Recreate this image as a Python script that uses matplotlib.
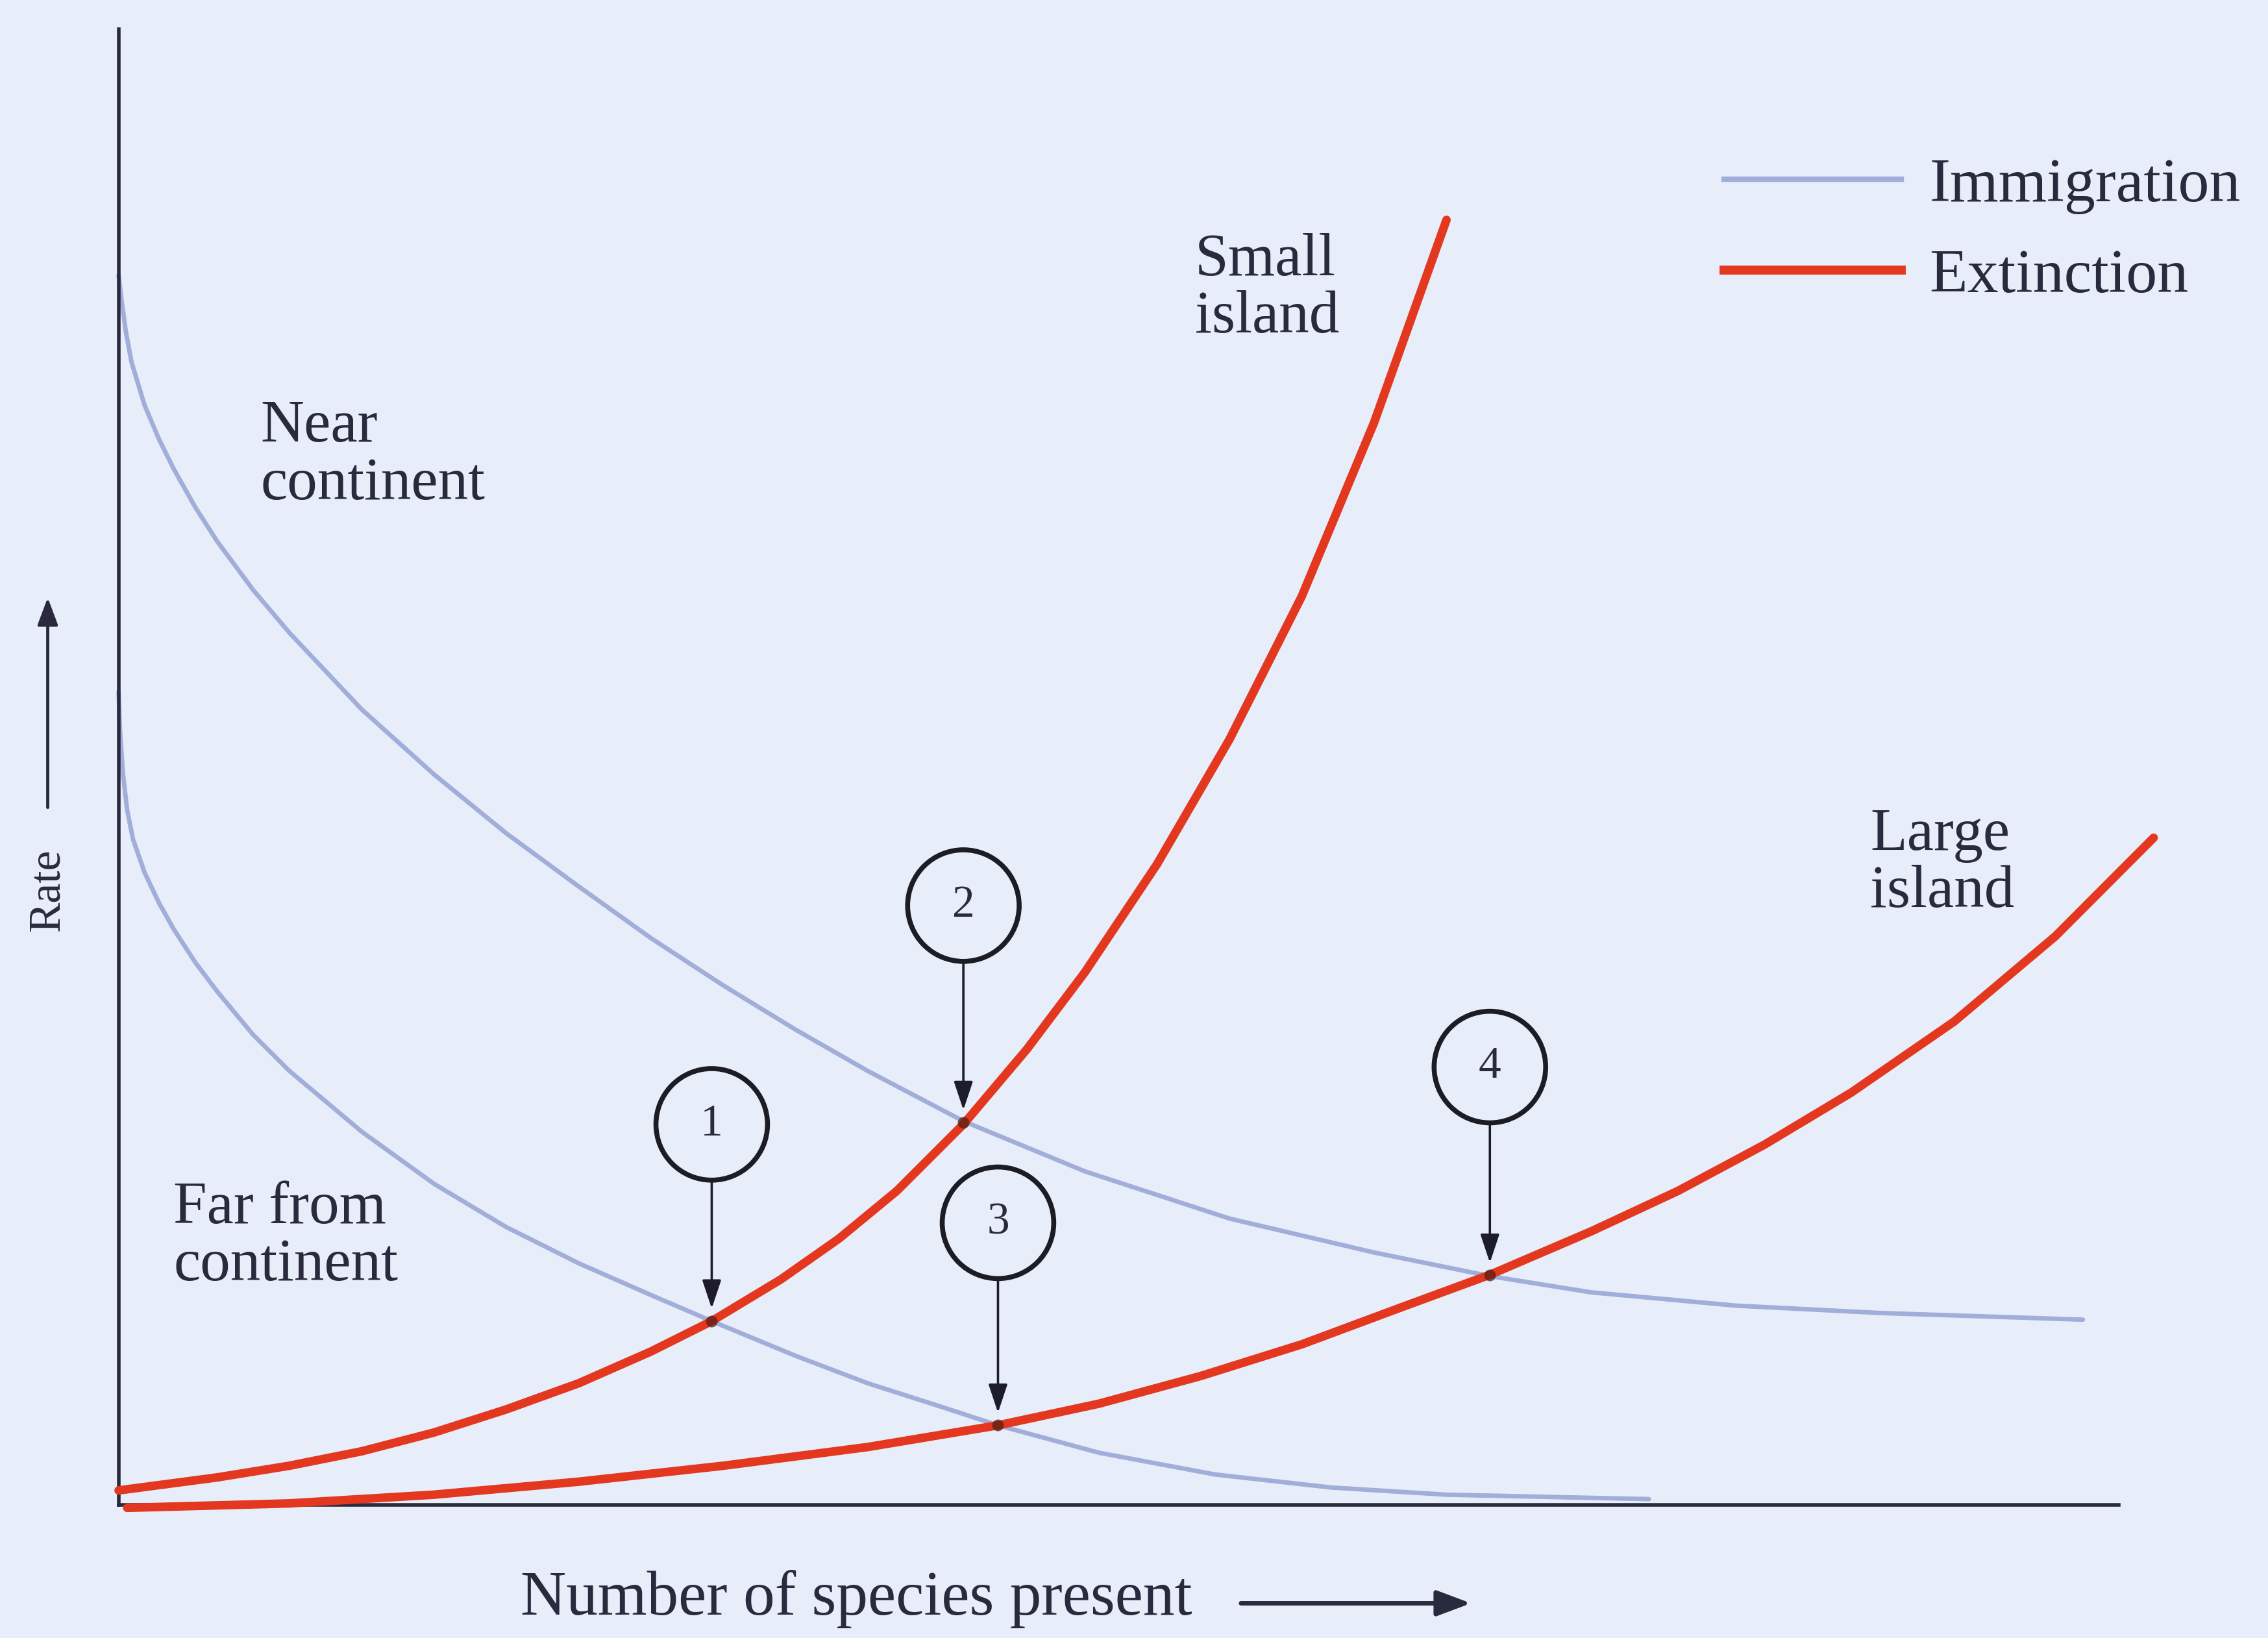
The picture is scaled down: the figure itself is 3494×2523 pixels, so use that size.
import matplotlib
matplotlib.use("Agg")
import matplotlib.pyplot as plt
from matplotlib.lines import Line2D

# ---------------- data (arbitrary units: species 0-100, rate 0-100) ----------------
near_x = [0, 0.14, 0.36, 0.65, 1.30, 2.02, 2.75, 3.83, 4.92, 6.72, 8.53, 12.15, 15.76,
          19.38, 23.00, 26.61, 30.22, 33.84, 37.45, 42.23, 48.30, 55.53, 62.76, 68.55,
          73.61, 80.84, 88.07, 98.19]
near_y = [83.3, 81.7, 79.5, 77.4, 74.5, 72.2, 70.2, 67.6, 65.3, 62.0, 59.1, 53.9, 49.5,
          45.5, 41.9, 38.4, 35.2, 32.2, 29.4, 26.0, 22.6, 19.4, 17.1, 15.5,
          14.4, 13.5, 13.0, 12.55]

far_x = [0, 0.07, 0.22, 0.43, 0.72, 1.30, 2.02, 2.75, 3.83, 4.92, 6.72, 8.53, 12.15,
         15.76, 19.38, 23.00, 26.61, 29.65, 33.84, 37.45, 41.07, 43.96, 49.02, 54.81,
         60.59, 66.38, 76.50]
far_y = [55.1, 52.45, 49.5, 47.06, 45.1, 42.84, 40.78, 39.02, 36.76, 34.8, 31.86, 29.41,
         25.29, 21.76, 18.82, 16.37, 14.22, 12.45, 10.1, 8.24, 6.67, 5.39, 3.53, 2.06,
         1.18, 0.69, 0.39]

small_x = [0, 4.92, 8.53, 12.15, 15.76, 19.38, 23.00, 26.61, 29.65, 33.12, 36.01,
           38.90, 42.23, 45.41, 48.30, 51.92, 55.53, 59.15, 62.76, 66.38]
small_y = [0.98, 1.86, 2.65, 3.63, 4.90, 6.47, 8.24, 10.39, 12.45, 15.29, 18.04,
           21.27, 25.78, 30.88, 36.08, 43.43, 51.86, 61.57, 73.33, 87.06]

large_x = [0.43, 8.53, 15.76, 23.00, 30.22, 37.45, 43.96, 49.02, 54.09, 59.15, 64.21,
           68.55, 73.61, 77.95, 82.28, 86.62, 91.76, 96.82, 101.73]
large_y = [-0.2, 0.10, 0.69, 1.57, 2.65, 3.92, 5.39, 6.86, 8.73, 10.88, 13.43,
           15.59, 18.53, 21.27, 24.41, 27.94, 32.75, 38.53, 45.20]

# equilibrium points (intersections) and their labels
eq_labels = ["1", "2", "3", "4"]
eq_x = [29.65, 42.23, 43.96, 68.55]
eq_y = [12.45, 25.9, 5.39, 15.55]

legend_labels = ["Immigration", "Extinction"]
curve_labels = ["Near\ncontinent", "Far from\ncontinent", "Small\nisland", "Large\nisland"]
x_label = "Number of species present"
y_label = "Rate"

# ---------------- style ----------------
BG = "#E8EEF9"
RED = "#E3381F"
BLUE = "#A2AEDA"
INK = "#2A2A3E"
SERIF = ["Liberation Serif", "DejaVu Serif"]

SW, SH = 1568.0, 1132.0  # layout reference grid


def fx(sx):
    return sx / SW


def fy(sy):
    return 1 - sy / SH


fig = plt.figure(figsize=(34.94, 25.23), dpi=100, facecolor=BG)
ax = fig.add_axes([fx(82), fy(1040), fx(1465) - fx(82), fy(20) - fy(1040)])
ax.set_facecolor(BG)
ax.set_xlim(0, 100)
ax.set_ylim(0, 100)
for s in ["top", "right"]:
    ax.spines[s].set_visible(False)
for s in ["left", "bottom"]:
    ax.spines[s].set_color(INK)
    ax.spines[s].set_linewidth(4)
ax.set_xticks([])
ax.set_yticks([])

line_kw = dict(clip_on=False, solid_capstyle="round", solid_joinstyle="round")
# immigration curves
ax.plot(near_x, near_y, color=BLUE, lw=5, zorder=2, **line_kw)
ax.plot(far_x, far_y, color=BLUE, lw=5, zorder=2, **line_kw)
# extinction curves
ax.plot(small_x, small_y, color=RED, lw=9.5, zorder=3, **line_kw)
ax.plot(large_x, large_y, color=RED, lw=9.5, zorder=3, **line_kw)

# intersection marks
ax.plot(eq_x, eq_y, "o", ms=13, color="#5a1d16", alpha=0.75, zorder=4, mec="none")

# numbered circles with arrows
offsets = [136, 150, 140, 144]
scale = 3494 / SW
for lab, x, y, oy in zip(eq_labels, eq_x, eq_y, offsets):
    ax.annotate(lab, xy=(x, y), xytext=(0, oy * scale),
                textcoords="offset pixels", ha="center", va="center",
                fontsize=50, family=SERIF, color=INK, zorder=6,
                bbox=dict(boxstyle="circle,pad=0.78", fc=BG, ec="#1c1c24", lw=5.5),
                arrowprops=dict(arrowstyle="-|>,head_length=0.9,head_width=0.3",
                                mutation_scale=30, color="#1c1c2c", lw=2.6,
                                shrinkA=0, shrinkB=14))

# curve labels
text_kw = dict(fontsize=67, family=SERIF, color=INK, va="center", ha="left",
               linespacing=1.05)
label_pos = [(180, 315), (120, 855), (826, 200), (1293, 597)]
for t, (sx, sy) in zip(curve_labels, label_pos):
    fig.text(fx(sx), fy(sy), t, **text_kw)

# legend
handles = [Line2D([], [], color=BLUE, lw=6), Line2D([], [], color=RED, lw=10)]
fig.legend(handles, legend_labels, loc="upper left",
           bbox_to_anchor=(fx(1192), fy(109)), bbox_transform=fig.transFigure,
           frameon=False, prop=dict(family=SERIF, size=69), labelcolor=INK,
           handlelength=2.85, handletextpad=0.45, labelspacing=0.55,
           borderpad=0, borderaxespad=0)

# axis titles with arrows
fig.text(fx(360), fy(1105), x_label, fontsize=70, family=SERIF, color=INK,
         ha="left", va="center")
ax.annotate("", xy=(fx(1017), fy(1108)), xytext=(fx(858), fy(1108)),
            xycoords="figure fraction", textcoords="figure fraction",
            arrowprops=dict(arrowstyle="-|>,head_length=0.8,head_width=0.3",
                            mutation_scale=40, color=INK, lw=5,
                            shrinkA=0, shrinkB=0), annotation_clip=False)
fig.text(fx(33), fy(615), y_label, fontsize=50, family=SERIF, color=INK,
         ha="center", va="center", rotation=90)
ax.annotate("", xy=(fx(33), fy(413)), xytext=(fx(33), fy(558)),
            xycoords="figure fraction", textcoords="figure fraction",
            arrowprops=dict(arrowstyle="-|>,head_length=0.8,head_width=0.3",
                            mutation_scale=32, color=INK, lw=3.5,
                            shrinkA=0, shrinkB=0), annotation_clip=False)

fig.savefig("out.png", dpi=100, facecolor=BG)
